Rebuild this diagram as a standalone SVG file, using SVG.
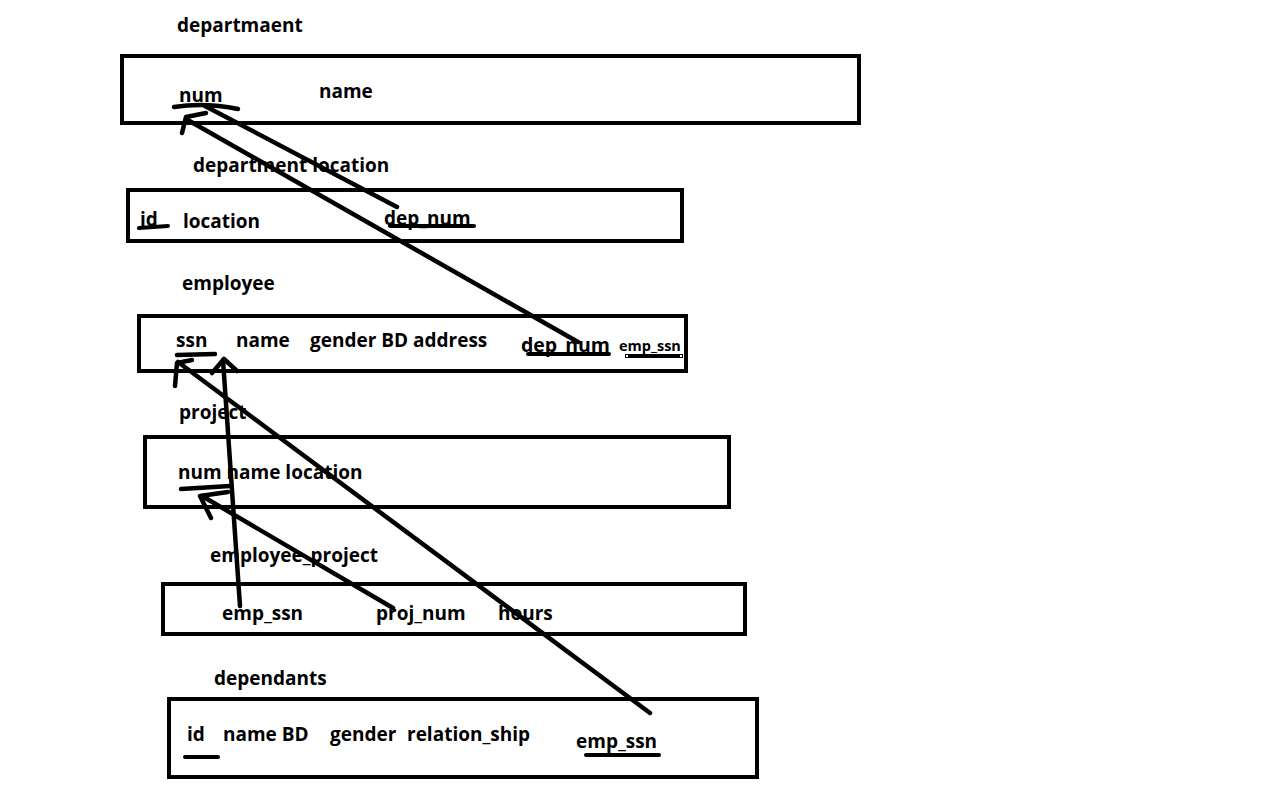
<svg xmlns="http://www.w3.org/2000/svg" width="1283" height="797" viewBox="0 0 1283 797">
<style>
.box{fill:none;stroke:#000;stroke-width:4}
.t{font-family:"Open Sans","Noto Sans",sans-serif;font-weight:700;font-size:19px;fill:#000}
.big{font-size:19.5px}
.small{font-size:14.5px}
.c{fill:none;stroke:#000;stroke-width:4.5;stroke-linecap:round;stroke-linejoin:round}
.u{fill:none;stroke:#000;stroke-width:4;stroke-linecap:round}
</style>
<rect width="1283" height="797" fill="#fff"/>
<g id="department">
<rect class="box" x="122" y="56" width="737" height="67"/>
<text class="t" x="177" y="32">departmaent</text>
<text class="t" x="179" y="102">num</text>
<text class="t" x="319" y="98">name</text>
</g>
<g id="department_location">
<rect class="box" x="128" y="190" width="554" height="51"/>
<text class="t" x="193" y="172">department location</text>
<text class="t" x="140" y="226">id</text>
<text class="t" x="183" y="228">location</text>
<text class="t" x="384" y="225">dep_num</text>
<path class="u" d="M139 228 L168 226"/>
<path class="u" d="M390 226 L474 226"/>
</g>
<g id="employee">
<rect class="box" x="139" y="316" width="547" height="55"/>
<text class="t" x="182" y="290">employee</text>
<text class="t" x="176" y="347">ssn</text>
<text class="t" x="236" y="347">name</text>
<text class="t" x="310" y="347">gender BD address</text>
<text class="t big" x="521" y="352">dep_num</text>
<text class="t small" x="619" y="351">emp_ssn</text>
<path class="u" d="M528 354 L609 354"/>
<rect x="627" y="354" width="54" height="4" fill="#000"/>
<rect x="625.5" y="354.5" width="3" height="3" fill="#fff" stroke="#000" stroke-width="1"/>
<rect x="679.5" y="354.5" width="3" height="3" fill="#fff" stroke="#000" stroke-width="1"/>
</g>
<g id="project">
<rect class="box" x="145" y="437" width="584" height="70"/>
<text class="t" x="179" y="419">project</text>
<text class="t" x="178" y="479">num name location</text>
</g>
<g id="employee_project">
<rect class="box" x="163" y="584" width="582" height="50"/>
<text class="t" x="210" y="562">employee_project</text>
<text class="t" x="222" y="620">emp_ssn</text>
<text class="t" x="376" y="620">proj_num</text>
<text class="t" x="498" y="620">hours</text>
</g>
<g id="dependants">
<rect class="box" x="169" y="699" width="588" height="78"/>
<text class="t" x="214" y="685">dependants</text>
<text class="t" x="187" y="741">id</text>
<text class="t" x="223" y="741">name BD</text>
<text class="t" x="330" y="741">gender</text>
<text class="t" x="407" y="741">relation_ship</text>
<text class="t" x="576" y="748">emp_ssn</text>
<path class="u" d="M185 757 L218 757"/>
<path class="u" d="M586 755 L659 755"/>
</g>
<g id="connectors">
<path class="c" d="M397 207 L205 106"/>
<path class="c" d="M578 342 L186 119"/>
<path class="c" d="M174 107 Q205 102 238 109"/>
<path class="c" d="M182 133 L186 117 L206 113"/>
<path class="c" d="M650 713 L178 362"/>
<path class="c" d="M177 355 L215 354"/>
<path class="c" d="M175 386 L177 363 L192 360"/>
<path class="c" d="M240 606 L223 360"/>
<path class="c" d="M212 373 L224 359 L237 371"/>
<path class="c" d="M393 608 L202 496"/>
<path class="c" d="M181 489 L230 486"/>
<path class="c" d="M211 518 L200 496 L228 492"/>
</g>
</svg>
